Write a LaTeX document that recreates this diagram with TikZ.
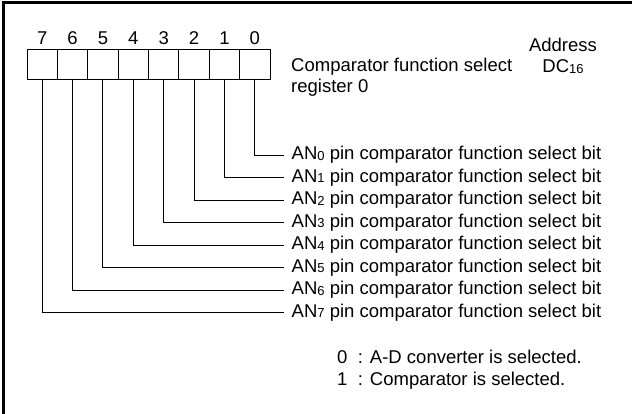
\documentclass[tikz,border=0pt]{standalone}
\usepackage{fontspec}
\setmainfont{Liberation Sans}
\usetikzlibrary{positioning}
\newcommand{\pinidx}[1]{\raisebox{-0.5pt}{\fontsize{13}{13}\selectfont #1}}

\begin{document}
\begin{tikzpicture}[
    x=1pt,y=-1pt,
    font=\fontsize{18.5}{21.5}\selectfont,
    cell/.style={draw,line width=0.9pt,minimum width=30.4pt,minimum height=30pt,inner sep=0pt},
    bitnum/.style={anchor=base,inner sep=0pt},
    lead/.style={line width=0.9pt},
    bitlbl/.style={anchor=west,inner xsep=7.5pt,inner ysep=0pt},
    note/.style={anchor=north west,align=left,inner sep=0pt},
    frame/.style={line width=3pt}
  ]
  \useasboundingbox (0,0) rectangle (632,414);
  \draw[frame] (3,414) |- (632,2.5);

  % register cells, bit 7 on the left
  \foreach \i in {0,...,7} {
    \node[cell] (c\i) at ({254.8-30.375*\i},64) {};
    \node[bitnum] (n\i) at ([yshift=4pt]c\i.north) {\i};
  }
  \node[note] (title) at (291,57.5) {Comparator function select\\register 0};
  \node[anchor=north,align=center,inner sep=0pt] (addr) at (563,37.7) {Address\\DC\pinidx{16}};

  % bit descriptions and their leads
  \foreach \i in {0,...,7} {
    \node[bitlbl] (l\i) at (284,{155+22.5*\i}) {AN\pinidx{\i} pin comparator function select bit};
    \draw[lead] (c\i.south) |- (l\i.west);
  }

  \node[note] (legend) at (337,350) {0\hspace{10.5pt}: A-D converter is selected.\\1\hspace{10.5pt}: Comparator is selected.};
\end{tikzpicture}
\end{document}
